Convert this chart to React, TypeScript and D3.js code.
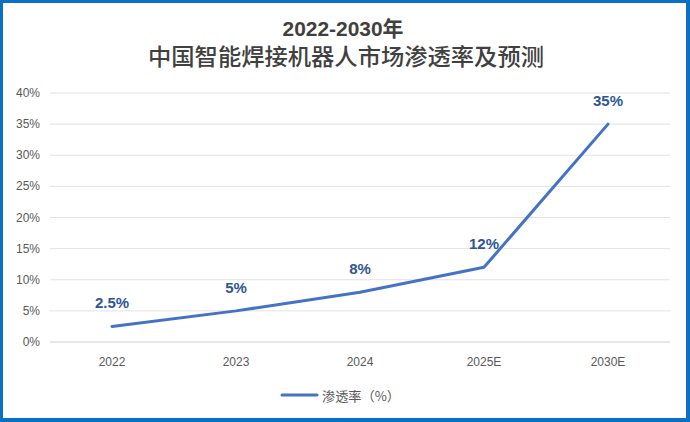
import React from "react";
import * as d3 from "d3";

const categories = ["2022", "2023", "2024", "2025E", "2030E"];
const values = [2.5, 5, 8, 12, 35];
const valueLabels = ["2.5%", "5%", "8%", "12%", "35%"];
const yTicks = [0, 5, 10, 15, 20, 25, 30, 35, 40];
const seriesName = "渗透率（%）";
const titleLine1 = "2022-2030年";
const titleLine2 = "中国智能焊接机器人市场渗透率及预测";

const W = 690;
const H = 422;

export default function App() {
  const x = d3.scaleBand<string>().domain(categories).range([50, 670]);
  const y = d3.scaleLinear().domain([0, 40]).range([342, 93]);
  const line = d3
    .line<number>()
    .x((_, i) => (x(categories[i]) as number) + x.bandwidth() / 2)
    .y((d) => y(d));

  return (
    <div style={{ position: "absolute", left: 0, top: 0 }}>
      <svg width={W} height={H} style={{ display: "block" }}>
        <rect x={0} y={0} width={W} height={H} fill="#ffffff" />
        <rect x={1.5} y={1.5} width={686} height={418} fill="none" stroke="#0A70C3" strokeWidth={3} />
        <rect x={687} y={0} width={3} height={H} fill="#0A70C3" />
        <rect x={0} y={418} width={W} height={4} fill="#0A70C3" />
        <text
          x={343}
          y={36}
          textAnchor="middle"
          fontFamily="'Liberation Sans', 'Noto Sans CJK SC', sans-serif"
          fontWeight="bold"
          fontSize={21}
          fill="#404040"
          textLength={121}
          lengthAdjust="spacingAndGlyphs"
        >
          {titleLine1}
        </text>
        <text
          x={346}
          y={65}
          textAnchor="middle"
          fontFamily="'Noto Sans CJK SC', sans-serif"
          fontWeight={500}
          fontSize={23}
          fill="#404040"
          textLength={396}
          lengthAdjust="spacingAndGlyphs"
        >
          {titleLine2}
        </text>
        {yTicks.map((t) => (
          <g key={t}>
            <line x1={50} x2={670} y1={y(t)} y2={y(t)} stroke={t === 0 ? "#D0D0D0" : "#E2E2E2"} strokeWidth={1} />
            <text
              x={40}
              y={y(t) + 4}
              textAnchor="end"
              fontFamily="'Liberation Sans', 'DejaVu Sans', sans-serif"
              fontSize={12}
              fill="#595959"
            >
              {t + "%"}
            </text>
          </g>
        ))}
        {categories.map((c) => (
          <text
            key={c}
            x={(x(c) as number) + x.bandwidth() / 2}
            y={366}
            textAnchor="middle"
            fontFamily="'Liberation Sans', 'DejaVu Sans', sans-serif"
            fontSize={12}
            fill="#595959"
          >
            {c}
          </text>
        ))}
        <path d={line(values) || ""} fill="none" stroke="#4472C4" strokeWidth={3} strokeLinejoin="round" strokeLinecap="round" />
        {values.map((v, i) => (
          <text
            key={i}
            x={(x(categories[i]) as number) + x.bandwidth() / 2}
            y={y(v) - 18}
            textAnchor="middle"
            fontFamily="'Liberation Sans', 'DejaVu Sans', sans-serif"
            fontWeight="bold"
            fontSize={15}
            fill="#2F5597"
          >
            {valueLabels[i]}
          </text>
        ))}
        <line x1={282} x2={317} y1={395} y2={395} stroke="#4472C4" strokeWidth={3} strokeLinecap="round" />
        <text
          x={322}
          y={401}
          fontFamily="'Noto Sans CJK SC', sans-serif"
          fontSize={13}
          fill="#595959"
          textLength={78}
          lengthAdjust="spacingAndGlyphs"
        >
          {seriesName}
        </text>
      </svg>
    </div>
  );
}
